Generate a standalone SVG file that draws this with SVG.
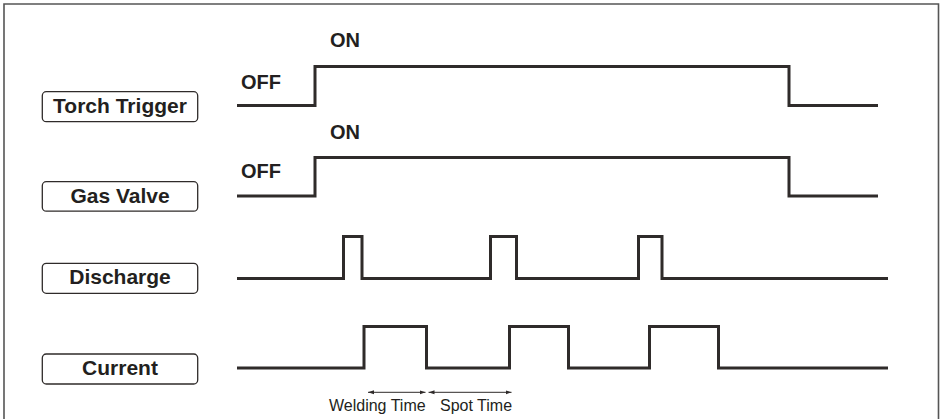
<svg xmlns="http://www.w3.org/2000/svg" width="942" height="419" viewBox="0 0 942 419">
<style>
.frame{fill:none;stroke:#555;stroke-width:1.6}
.box{fill:#fff;stroke:#2f2b2a;stroke-width:1.3}
.lbl{font-family:"Liberation Sans",Arial,sans-serif;font-weight:bold;font-size:21px;fill:#231f20;text-anchor:middle}
.st{font-family:"Liberation Sans",Arial,sans-serif;font-weight:bold;font-size:20px;fill:#231f20}
.sig{fill:none;stroke:#2f2b2a;stroke-width:3;stroke-linejoin:miter}
.dim{stroke:#2f2b2a;stroke-width:1;fill:none;marker-start:url(#ah);marker-end:url(#ah)}
.tm{font-family:"Liberation Sans",Arial,sans-serif;font-size:16px;fill:#231f20}
</style>
<defs>
<marker id="ah" viewBox="0 0 6 6" refX="6" refY="3" markerWidth="6" markerHeight="6" orient="auto-start-reverse" markerUnits="userSpaceOnUse">
<path d="M0,1 L6,3 L0,5 Z" fill="#2f2b2a"/>
</marker>
</defs>
<path class="frame" d="M4,425 V4 H938.5 V425"/>
<g id="node-torch">
<rect class="box" x="42.3" y="91.7" width="155.4" height="30" rx="4"/>
<text class="lbl" x="120" y="112.7">Torch Trigger</text>
</g>
<g id="node-gas">
<rect class="box" x="42.3" y="181.7" width="155.4" height="29.5" rx="4"/>
<text class="lbl" x="120" y="202.7">Gas Valve</text>
</g>
<g id="node-discharge">
<rect class="box" x="42.3" y="263.3" width="155.4" height="30" rx="4"/>
<text class="lbl" x="120" y="283.8">Discharge</text>
</g>
<g id="node-current">
<rect class="box" x="42.3" y="354" width="155.4" height="30" rx="4"/>
<text class="lbl" x="120" y="374.5">Current</text>
</g>
<g id="connectors">
<path class="sig" d="M237,105.5 H315 V66.5 H789 V105.5 H878"/>
<path class="sig" d="M237,196 H315 V157.5 H789 V196 H878"/>
<path class="sig" d="M237,278.5 H343.5 V236.5 H362 V278.5 H490.5 V236.5 H516.5 V278.5 H638.5 V236.5 H662 V278.5 H888"/>
<path class="sig" d="M237,368 H364 V326.5 H426.5 V368 H509.5 V326.5 H568.5 V368 H649.5 V326.5 H718.5 V368 H888"/>
<path class="dim" d="M368,392.3 H425.5"/>
<path class="dim" d="M428.5,392.3 H511.5"/>
</g>
<g id="labels">
<text class="st" x="241" y="89">OFF</text>
<text class="st" x="330" y="46.7">ON</text>
<text class="st" x="241" y="178.3">OFF</text>
<text class="st" x="330" y="139.3">ON</text>
<text class="tm" x="329" y="410.7">Welding Time</text>
<text class="tm" x="440" y="410.7">Spot Time</text>
</g>
</svg>
